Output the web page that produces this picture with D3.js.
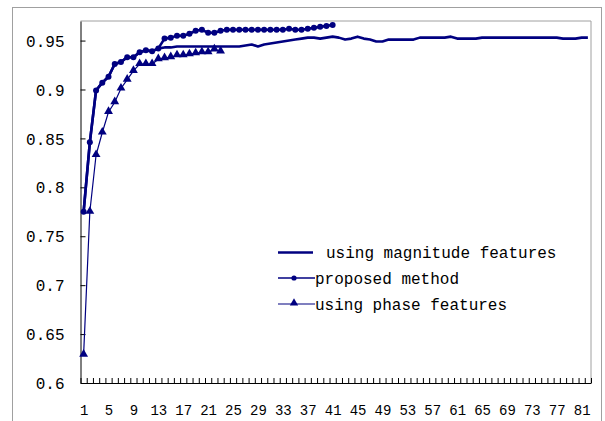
<!DOCTYPE html>
<html><head><meta charset="utf-8">
<script src="https://cdn.jsdelivr.net/npm/d3@7"></script>
<style>
html,body{margin:0;padding:0;background:#fff;}
svg text{font-family:"Liberation Mono","Courier New","DejaVu Sans Mono",monospace;fill:#000;}
</style></head>
<body>
<svg id="c" width="605" height="421"></svg>
<script>
// ---- data ----
const magnitude = [0.775,0.846,0.899,0.907,0.913,0.926,0.928,0.933,0.933,0.938,
  0.940,0.939,0.942,0.943,0.943,0.944,0.944,0.944,0.944,0.944,
  0.944,0.944,0.944,0.944,0.944,0.944,0.945,0.946,0.944,0.946,
  0.947,0.948,0.949,0.950,0.951,0.952,0.953,0.953,0.952,0.953,
  0.954,0.953,0.951,0.952,0.954,0.952,0.951,0.949,0.949,0.951,
  0.951,0.951,0.951,0.951,0.953,0.953,0.953,0.953,0.953,0.954,
  0.952,0.952,0.952,0.952,0.953,0.953,0.953,0.953,0.953,0.953,
  0.953,0.953,0.953,0.953,0.953,0.953,0.953,0.952,0.952,0.952,
  0.953,0.953];
const proposed = [0.775,0.846,0.899,0.907,0.913,0.926,0.928,0.933,0.933,0.938,
  0.940,0.939,0.942,0.952,0.953,0.955,0.955,0.957,0.960,0.961,
  0.958,0.958,0.960,0.961,0.961,0.961,0.961,0.961,0.961,0.961,
  0.961,0.961,0.961,0.962,0.961,0.961,0.962,0.963,0.964,0.965,
  0.966];
const phase = [0.629,0.775,0.833,0.856,0.877,0.887,0.901,0.910,0.919,0.926,
  0.926,0.926,0.931,0.932,0.933,0.935,0.935,0.936,0.937,0.938,
  0.938,0.941,0.939];
const yTicks = [0.6,0.65,0.7,0.75,0.8,0.85,0.9,0.95];
const yTickLabels = ["0.6","0.65","0.7","0.75","0.8","0.85","0.9","0.95"];
const xTickLabels = [1,5,9,13,17,21,25,29,33,37,41,45,49,53,57,61,65,69,73,77,81];
const nCategories = 82;
const legendLabels = ["using magnitude features","proposed method","using phase features"];

// ---- layout ----
const FONT = '"Liberation Mono","Courier New","DejaVu Sans Mono",monospace';
const svg = d3.select("#c");
const L = 80.5, R = 591, T = 21, B = 383;
const navy = "#000080";
const x = d3.scaleLinear().domain([0.5, nCategories + 0.5]).range([L, R]);
const y = d3.scaleLinear().domain([0.6, 0.97]).range([B, T]);

// outer chart border
svg.append("rect").attr("x",12.5).attr("y",7.5).attr("width",589).attr("height",420)
  .attr("fill","none").attr("stroke","#a0a0a0");
// plot area border (top/right gray)
svg.append("path").attr("d",`M${L},${T}H${R}V${B}`).attr("fill","none").attr("stroke","#a0a0a0");

// y axis
const yAxis = d3.axisLeft(y).tickValues(yTicks)
  .tickFormat((d,i)=>yTickLabels[i]).tickSizeInner(-5).tickSizeOuter(0).tickPadding(16);
const gy = svg.append("g").attr("transform",`translate(${L},0)`).call(yAxis);
gy.attr("font-family",FONT).attr("font-size",16);
gy.selectAll("text").attr("font-family",FONT).style("font-size","16px").attr("dy","0.35em");
gy.selectAll("line,path").attr("stroke","#000");

// x axis ticks at category boundaries
const bounds = d3.range(0, nCategories + 1).map(d => d + 0.5);
const xTickAxis = d3.axisBottom(x).tickValues(bounds).tickFormat("").tickSizeInner(-5).tickSizeOuter(0);
const gx = svg.append("g").attr("transform",`translate(0,${B})`).call(xTickAxis);
gx.selectAll("line,path").attr("stroke","#000");
// x labels
const xLabAxis = d3.axisBottom(x).tickValues(xTickLabels).tickSize(0).tickPadding(27);
const gxl = svg.append("g").attr("transform",`translate(0,${B})`).call(xLabAxis);
gxl.attr("font-family",FONT);
gxl.select(".domain").remove();
gxl.selectAll("text").attr("font-family",FONT).style("font-size","14px").attr("dy","0.35em");

// lines
const line = d3.line().x((d,i)=>x(i+1)).y(d=>y(d));
svg.append("path").datum(magnitude).attr("d",line).attr("fill","none")
  .attr("stroke",navy).attr("stroke-width",2.6).attr("stroke-linejoin","round");
svg.append("path").datum(phase).attr("d",line).attr("fill","none")
  .attr("stroke",navy).attr("stroke-width",1.2);
svg.append("path").datum(proposed).attr("d",line).attr("fill","none")
  .attr("stroke",navy).attr("stroke-width",2.6).attr("stroke-linejoin","round");

const tri = d3.symbol().type(d3.symbolTriangle).size(34);
svg.append("g").selectAll("path").data(phase).join("path")
  .attr("d",tri).attr("fill",navy)
  .attr("transform",(d,i)=>`translate(${x(i+1)},${y(d)-0.5})`);
svg.append("g").selectAll("circle").data(proposed).join("circle")
  .attr("cx",(d,i)=>x(i+1)).attr("cy",d=>y(d)).attr("r",3).attr("fill",navy);

// legend
const lg = svg.append("g").attr("font-family",FONT);
lg.append("line").attr("x1",278).attr("x2",313).attr("y1",252.5).attr("y2",252.5)
  .attr("stroke",navy).attr("stroke-width",2.6);
lg.append("text").attr("x",326).attr("y",258).style("font-size","16px").text(legendLabels[0]);
lg.append("line").attr("x1",278).attr("x2",315).attr("y1",278).attr("y2",278)
  .attr("stroke",navy).attr("stroke-width",1.4);
lg.append("circle").attr("cx",294).attr("cy",278).attr("r",2.6).attr("fill",navy);
lg.append("text").attr("x",315).attr("y",283.5).style("font-size","16px").text(legendLabels[1]);
lg.append("line").attr("x1",278).attr("x2",315).attr("y1",304).attr("y2",304)
  .attr("stroke",navy).attr("stroke-width",1.2);
lg.append("path").attr("d",d3.symbol().type(d3.symbolTriangle).size(30))
  .attr("transform","translate(294,303)").attr("fill",navy);
lg.append("text").attr("x",315).attr("y",309.5).style("font-size","16px").text(legendLabels[2]);
</script>
</body></html>
